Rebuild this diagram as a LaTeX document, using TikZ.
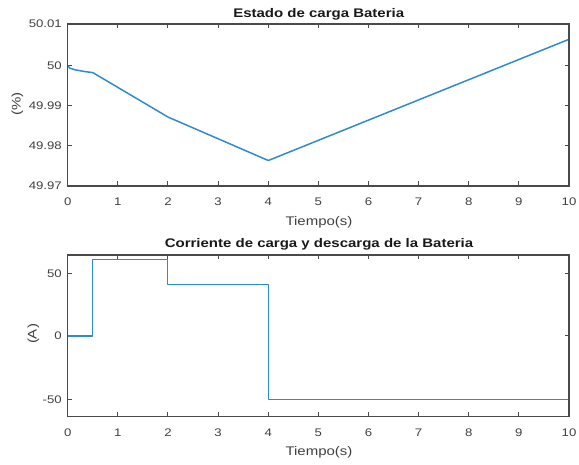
\documentclass[tikz,border=0pt]{standalone}
\usepackage{fontspec}
\setmainfont{Liberation Sans}[FakeStretch=1.2]
\definecolor{axgray}{HTML}{4A4A4A}
\definecolor{lblgray}{HTML}{404040}
\definecolor{mblue}{RGB}{48,138,206}
\tikzset{
  axbox/.style={draw=axgray, line width=1.3pt},
  tk/.style={draw=axgray, line width=1pt},
  ticklbl/.style={font=\fontsize{11}{11}\selectfont, text=lblgray, inner sep=0pt},
  xlbl/.style={font=\fontsize{12.5}{12.5}\selectfont, text=lblgray, inner sep=0pt, anchor=base},
  ylbl/.style={font=\fontsize{12.5}{12.5}\selectfont, text=lblgray, inner sep=0pt, rotate=90},
  ttl/.style={font=\fontsize{12.5}{12.5}\selectfont\bfseries, text=black!90, inner sep=0pt, anchor=base},
  dataline/.style={draw=mblue, line width=1.5pt, line join=round}
}
\begin{document}
\begin{tikzpicture}[x=1pt,y=-1pt]
\useasboundingbox (0,0) rectangle (579,465);
% ---------------- top axes ----------------
\def\xL{67.7}\def\xR{569}
\def\dx{50.13}
\foreach \i in {1,...,9}{
  \draw[tk] ({\xL+\i*\dx},186) -- ++(0,-4.5);
  \draw[tk] ({\xL+\i*\dx},24) -- ++(0,4.5);
}
\foreach \i in {0,...,10}{
  \node[ticklbl, anchor=base] (tx\i) at ({\xL+\i*\dx},206) {\i};
}
\foreach \yy/\lab/\nm in {24/50.01/a,66/50/b,105.5/49.99/c,145.5/49.98/d,186/49.97/e}{
  \draw[tk] (\xL,\yy) -- ++(4.5,0);
  \draw[tk] (\xR,\yy) -- ++(-4.5,0);
  \node[ticklbl, anchor=base east] (ty\nm) at (62,\yy+3.9) {\lab};
}
\draw[dataline] (67.7,66) -- (70,68.2) -- (75,69.8) -- (85,71.6) -- (92.8,72.6)
  -- (167.9,117) -- (268.3,160.5) -- (569,39.3);
\draw[axbox] (\xL,24) rectangle (\xR,186);
\node[ttl] (t1) at (318.7,17.7) {Estado de carga Bateria};
\node[xlbl] (xl1) at (319,225.7) {Tiempo(s)};
\node[ylbl] (yl1) at (17.5,104) {(\%)};
% ---------------- bottom axes ----------------
\foreach \i in {1,...,9}{
  \draw[tk] ({\xL+\i*\dx},416.7) -- ++(0,-4.5);
  \draw[tk] ({\xL+\i*\dx},255) -- ++(0,4.5);
}
\foreach \i in {0,...,10}{
  \node[ticklbl, anchor=base] (bx\i) at ({\xL+\i*\dx},436.7) {\i};
}
\foreach \yy/\lab/\nm in {273.3/50/a,336/0/b,399.3/-50/c}{
  \draw[tk] (\xL,\yy) -- ++(4.5,0);
  \draw[tk] (\xR,\yy) -- ++(-4.5,0);
  \node[ticklbl, anchor=base east] (by\nm) at (62,\yy+3.9) {\lab};
}
\draw[dataline] (67.7,336) -- (92.3,336) -- (92.3,259.5) -- (167.6,259.5)
  -- (167.6,284.5) -- (268.3,284.5) -- (268.3,399.3) -- (569,399.3);
\draw[axbox] (\xL,255) rectangle (\xR,416.7);
\node[ttl] (t2) at (319,247.7) {Corriente de carga y descarga de la Bateria};
\node[xlbl] (xl2) at (319,455) {Tiempo(s)};
\node[ylbl] (yl2) at (33.5,334) {(A)};
\end{tikzpicture}
\end{document}
